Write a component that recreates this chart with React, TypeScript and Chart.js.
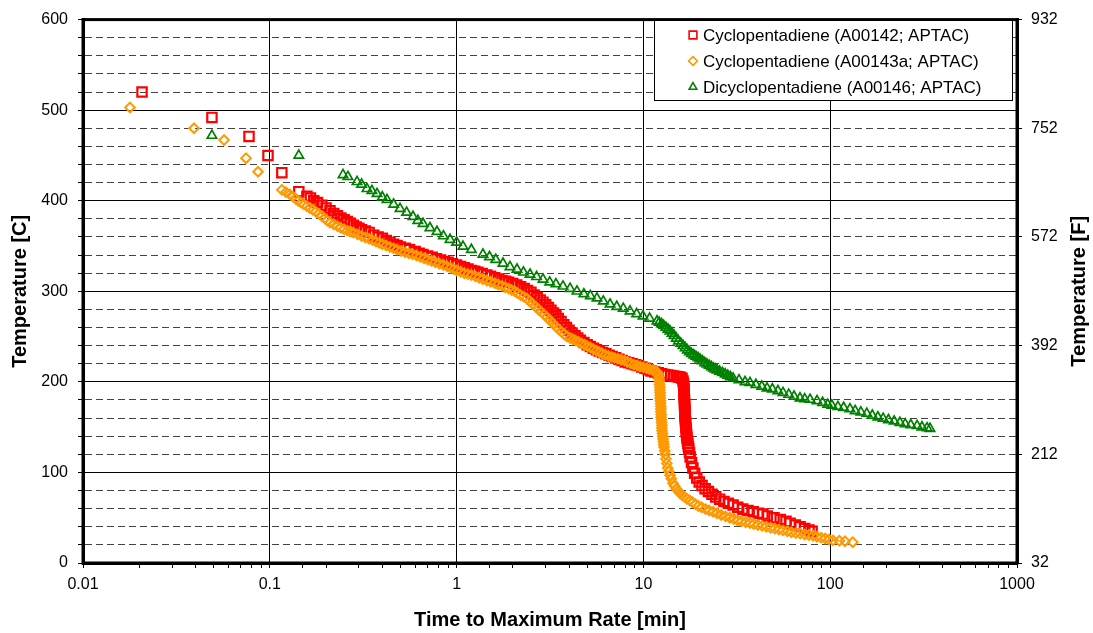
import React, { useEffect, useRef } from 'react';
import { Chart, registerables } from 'chart.js';
Chart.register(...registerables);

const FONT = '"Liberation Sans", Arial, sans-serif';

const seriesLabels = [
  'Cyclopentadiene (A00142; APTAC)',
  'Cyclopentadiene (A00143a; APTAC)',
  'Dicyclopentadiene (A00146; APTAC)',
];
const seriesColors = ['#FF0000', '#FF9900', '#008000'];

const xTickValues = [0.01, 0.1, 1, 10, 100, 1000];
const xTickLabels = ['0.01', '0.1', '1', '10', '100', '1000'];
const fahrenheitTicks = [32, 212, 392, 572, 752, 932];

// Cyclopentadiene (A00142; APTAC): [time to max rate (min), temperature (C)]
const cpd142 = [
  [0.0207, 520], [0.049, 492], [0.0774, 471], [0.0978, 450], [0.116, 431], [0.143, 410],
  [0.158, 405], [0.165, 403], [0.172, 400], [0.18, 398], [0.19, 395], [0.2, 392], [0.21, 389],
  [0.22, 386], [0.23, 383.5], [0.24, 381], [0.25, 379], [0.26, 377], [0.27, 375], [0.28, 373],
  [0.29, 371], [0.3, 369.5], [0.31, 368], [0.325, 366.5], [0.34, 365], [0.36, 362], [0.38, 360],
  [0.4, 358.5], [0.42, 356], [0.44, 354], [0.46, 352], [0.48, 350.5], [0.5, 349], [0.53, 347.5],
  [0.56, 346], [0.6, 344], [0.63, 342], [0.66, 340.5], [0.7, 339], [0.74, 337.5], [0.78, 336],
  [0.82, 334.5], [0.86, 333], [0.9, 332], [0.95, 330.5], [1.0, 329], [1.05, 327.5], [1.1, 326],
  [1.15, 324.5], [1.2, 323], [1.25, 322], [1.3, 321], [1.37, 319.5], [1.45, 318], [1.52, 316.5],
  [1.6, 315], [1.68, 313.5], [1.75, 312], [1.83, 311], [1.9, 310], [2.0, 308.5],
  [2.1, 307], [2.2, 305], [2.3, 303], [2.4, 301], [2.5, 299], [2.6, 296], [2.7, 293], [2.8, 290.5],
  [2.9, 288], [3.0, 285], [3.1, 282], [3.2, 279], [3.3, 276], [3.4, 273], [3.5, 270], [3.62, 266.5],
  [3.75, 263], [3.87, 260], [4.0, 257], [4.15, 254], [4.3, 251], [4.45, 248.5], [4.6, 246],
  [4.8, 243.5], [5.0, 241], [5.2, 239], [5.4, 237], [5.6, 235.5], [5.8, 234], [6.05, 232.5],
  [6.3, 231], [6.55, 229.5], [6.8, 228], [7.1, 226.5], [7.4, 225], [7.7, 223.5], [8.0, 222],
  [8.35, 221], [8.7, 220], [9.05, 219], [9.4, 218], [9.8, 216.5], [10.2, 215], [10.6, 213.5],
  [11.0, 212], [11.5, 211], [12.0, 210], [12.5, 209], [13.0, 208], [13.5, 207.5], [14.0, 207],
  [14.5, 206.5], [15.0, 206], [15.4, 205.5], [15.8, 205], [16.1, 204], [16.3, 201], [16.4, 198],
  [16.45, 195], [16.5, 192], [16.5, 189], [16.5, 186], [16.55, 183], [16.6, 180], [16.6, 177],
  [16.6, 174], [16.65, 171], [16.7, 168], [16.7, 165], [16.7, 162], [16.75, 159], [16.8, 156],
  [16.85, 153], [16.9, 150], [16.95, 147], [17.0, 144], [17.05, 141], [17.1, 138], [17.2, 135],
  [17.3, 132], [17.4, 129], [17.5, 126], [17.65, 122], [17.8, 117], [18.1, 111], [18.4, 105],
  [18.8, 99], [19.3, 94], [19.9, 89.5], [20.6, 85.5], [21.4, 82], [22.3, 79], [23.3, 76],
  [24.4, 73], [25.6, 70.5], [27.0, 68], [28.5, 66], [30.2, 64], [32.0, 61.5], [34.0, 59.5],
  [36.3, 58], [38.7, 56.5], [41.3, 55], [43.6, 54], [46.0, 52], [50.0, 50], [54.0, 48],
  [58.0, 46], [61.0, 44], [65.0, 42], [69.0, 40], [73.0, 38], [77.0, 36.5], [80.0, 35],
];

// Cyclopentadiene (A00143a; APTAC)
const cpd143a = [
  [0.01785, 503], [0.0393, 480], [0.0569, 467], [0.0746, 447], [0.0865, 432], [0.116, 412],
  [0.122, 409.5], [0.128, 407], [0.133, 404.5], [0.138, 402], [0.142, 400], [0.147, 398],
  [0.152, 396], [0.158, 394], [0.164, 392], [0.17, 390], [0.176, 388], [0.183, 385.5], [0.19, 383],
  [0.197, 380.5], [0.203, 378], [0.21, 376], [0.22, 374], [0.23, 372], [0.24, 370], [0.25, 368.5],
  [0.26, 367], [0.27, 366], [0.28, 365], [0.295, 363], [0.31, 361], [0.325, 359.5], [0.34, 358],
  [0.355, 356.5], [0.37, 355], [0.385, 353.5], [0.4, 352], [0.42, 350.5], [0.44, 349], [0.46, 347.5],
  [0.48, 346], [0.505, 344.5], [0.53, 343], [0.555, 342], [0.58, 341], [0.61, 339.5], [0.64, 338],
  [0.67, 336.5], [0.7, 335], [0.735, 333.5], [0.77, 332], [0.81, 330.5], [0.85, 329], [0.89, 327.5],
  [0.93, 326], [0.965, 324.5], [1.0, 323], [1.05, 321.5], [1.1, 320], [1.15, 319], [1.2, 318],
  [1.26, 316.5], [1.32, 315], [1.38, 313.5], [1.45, 312], [1.52, 310.5], [1.6, 309], [1.67, 307.5],
  [1.75, 306], [1.82, 304.5], [1.9, 303], [1.97, 301.5], [2.05, 300], [2.12, 298], [2.2, 296],
  [2.29, 294], [2.38, 292], [2.46, 289], [2.55, 286], [2.65, 283], [2.75, 280], [2.85, 277],
  [2.95, 274], [3.05, 271], [3.16, 268], [3.28, 264.5], [3.4, 261], [3.52, 258], [3.65, 255],
  [3.77, 252.5], [3.9, 250], [4.05, 248.5], [4.2, 247], [4.35, 245.5], [4.5, 244], [4.67, 242.5],
  [4.85, 241], [5.02, 239.5], [5.2, 238], [5.4, 236], [5.6, 234.5], [5.8, 233], [6.0, 231.5],
  [6.25, 230], [6.5, 228.5], [6.75, 227.5], [7.0, 226.5], [7.3, 225.5], [7.6, 224.5], [7.9, 223.5],
  [8.2, 222], [8.55, 220.5], [8.9, 219], [9.25, 218], [9.6, 217], [10.0, 216], [10.4, 215],
  [10.8, 214], [11.2, 213], [11.5, 212], [11.8, 211], [12.0, 209], [12.1, 206], [12.15, 203],
  [12.2, 200], [12.2, 197], [12.25, 194], [12.25, 191], [12.3, 188], [12.3, 185], [12.3, 182],
  [12.35, 179], [12.35, 176], [12.4, 173], [12.4, 170], [12.4, 167], [12.45, 164], [12.45, 161],
  [12.5, 158], [12.5, 155], [12.55, 152], [12.55, 149], [12.6, 146], [12.65, 143], [12.7, 140],
  [12.75, 137], [12.8, 134], [12.85, 131], [12.9, 128], [13.0, 124], [13.1, 120], [13.2, 115],
  [13.35, 110], [13.5, 105], [13.7, 101], [13.9, 97], [14.1, 93], [14.4, 88], [14.7, 85],
  [15.0, 82], [15.35, 79.5], [15.7, 77], [16.1, 75], [16.6, 73], [17.1, 71], [17.7, 69],
  [18.3, 67], [19.0, 65], [19.7, 63], [20.5, 61.5], [21.5, 59.5], [22.5, 58], [23.6, 56.5],
  [24.8, 55], [26.1, 53], [27.5, 51.5], [29.0, 50], [30.5, 48.5], [32.0, 47], [33.5, 46],
  [35.3, 45], [37.2, 44], [39.0, 43], [41.0, 42], [43.2, 41], [45.5, 40], [48.0, 39],
  [50.5, 38], [53.2, 37], [55.9, 36], [59.0, 35], [62.0, 34], [65.5, 33], [69.0, 32.5],
  [73.0, 31.5], [77.0, 31], [81.0, 30], [85.0, 29], [89.5, 28], [94.0, 27], [98.5, 26],
  [103.5, 25], [112.0, 24.5], [120.0, 24], [132.0, 23],
];

// Dicyclopentadiene (A00146; APTAC)
const dcpd146 = [
  [0.049, 472], [0.143, 450], [0.2466, 428.6], [0.262, 426.4], [0.293, 420.9], [0.31, 418],
  [0.331, 413.2], [0.352, 411], [0.375, 407.7], [0.4, 404], [0.424, 401.1], [0.46, 396],
  [0.498, 391.2], [0.54, 387], [0.584, 382.4], [0.62, 378], [0.661, 374.7], [0.72, 370],
  [0.785, 365.9], [0.85, 361], [0.922, 357.1], [1.0, 354], [1.082, 349.5], [1.2, 346],
  [1.384, 340.7], [1.5, 338], [1.62, 335], [1.772, 330.8], [1.93, 327], [2.105, 324.2],
  [2.28, 321], [2.472, 318.7], [2.68, 316], [2.901, 313.2], [3.15, 310], [3.4, 308],
  [3.712, 305.5], [4.05, 303], [4.41, 300], [4.8, 297], [5.2, 295], [5.64, 292.3], [6.1, 289],
  [6.63, 285.7], [7.2, 283], [7.8, 281], [8.48, 278], [9.2, 275], [9.95, 272.5], [10.8, 270],
  [11.83, 267], [12.15, 265.5], [12.5, 264], [12.85, 262], [13.2, 260], [13.55, 258],
  [13.88, 256], [14.25, 253.5], [14.6, 251], [15.0, 248], [15.4, 245], [15.85, 242.5],
  [16.3, 240], [16.75, 237.5], [17.2, 235], [17.65, 233], [18.1, 231], [18.6, 229.5],
  [19.1, 228], [19.6, 226.5], [20.1, 225], [20.7, 223], [21.3, 221], [21.9, 219.5],
  [22.5, 218], [23.1, 216.5], [23.7, 215], [24.2, 214], [24.8, 213], [25.6, 211.5],
  [26.5, 210], [27.4, 208.5], [28.3, 207], [29.2, 205.5], [30.2, 204], [32.5, 202],
  [35.0, 200], [37.2, 199], [40.0, 197], [43.0, 195], [45.9, 193], [49.0, 192], [52.5, 190],
  [55.9, 188], [60.0, 186], [64.0, 184], [68.9, 182], [73.0, 181], [78.0, 180.5], [85.0, 179],
  [91.0, 177], [97.0, 175], [102.0, 174], [110.0, 172.5], [118.0, 171.5], [127.6, 170],
  [136.0, 168], [146.0, 166.5], [157.0, 165], [168.0, 163], [180.0, 161], [192.0, 159.5],
  [205.0, 158], [220.0, 156.5], [236.0, 155], [252.0, 153.5], [270.0, 152.5], [292.0, 151.5],
  [310.0, 150], [330.0, 149], [342.0, 148.4],
];

const isDecade = (v: number | undefined) =>
  v !== undefined && xTickValues.some((t) => Math.abs(t - v) < t * 1e-6);

function drawMarker(ctx: CanvasRenderingContext2D, style: string, x: number, y: number, r: number) {
  ctx.beginPath();
  if (style === 'rect') {
    const s = r * Math.SQRT1_2;
    ctx.rect(x - s, y - s, 2 * s, 2 * s);
  } else if (style === 'rectRot') {
    ctx.moveTo(x, y - r);
    ctx.lineTo(x + r, y);
    ctx.lineTo(x, y + r);
    ctx.lineTo(x - r, y);
    ctx.closePath();
  } else {
    ctx.moveTo(x, y - r);
    ctx.lineTo(x + r * 0.866, y + r * 0.5);
    ctx.lineTo(x - r * 0.866, y + r * 0.5);
    ctx.closePath();
  }
  ctx.stroke();
}

const framePlugin = {
  id: 'frameAndLegend',
  afterDraw(chart: any) {
    const { ctx, chartArea } = chart;
    ctx.save();
    // plot frame
    ctx.strokeStyle = '#000';
    ctx.lineWidth = 3;
    ctx.strokeRect(chartArea.left, chartArea.top, chartArea.right - chartArea.left, chartArea.bottom - chartArea.top);

    // legend box
    const bx = 654.5, by = 20.5, bw = 358, bh = 80;
    ctx.fillStyle = '#fff';
    ctx.fillRect(bx, by, bw, bh);
    ctx.lineWidth = 1;
    ctx.strokeStyle = '#000';
    ctx.strokeRect(bx, by, bw, bh);
    ctx.font = `17px ${FONT}`;
    ctx.textBaseline = 'middle';
    ctx.textAlign = 'left';
    chart.data.datasets.forEach((ds: any, i: number) => {
      const cy = 35 + i * 26;
      ctx.strokeStyle = ds.borderColor;
      ctx.lineWidth = 1.6;
      drawMarker(ctx, ds.pointStyle, 693, cy, ds.pointStyle === 'rect' ? 5.5 : 4.4);
      ctx.fillStyle = '#000';
      ctx.fillText(ds.label, 703, cy + 1);
    });

    // right axis title (reads bottom to top)
    ctx.save();
    ctx.translate(1079, (chartArea.top + chartArea.bottom) / 2);
    ctx.rotate(-Math.PI / 2);
    ctx.font = `bold 20px ${FONT}`;
    ctx.textAlign = 'center';
    ctx.textBaseline = 'middle';
    ctx.fillStyle = '#000';
    ctx.fillText('Temperature [F]', 0, 0);
    ctx.restore();
    ctx.restore();
  },
};

export default function App() {
  const ref = useRef<HTMLCanvasElement>(null);
  useEffect(() => {
    const toPts = (arr: number[][]) => arr.map(([x, y]) => ({ x, y }));
    const chart = new Chart(ref.current as HTMLCanvasElement, {
      type: 'scatter',
      data: {
        datasets: [
          {
            label: seriesLabels[0], data: toPts(cpd142), pointStyle: 'rect', pointRadius: 6.6,
            borderColor: seriesColors[0], backgroundColor: 'rgba(0,0,0,0)', pointBorderWidth: 2.2, order: 3,
          },
          {
            label: seriesLabels[1], data: toPts(cpd143a), pointStyle: 'rectRot', pointRadius: 4.8,
            borderColor: seriesColors[1], backgroundColor: 'rgba(0,0,0,0)', pointBorderWidth: 2, order: 2,
          },
          {
            label: seriesLabels[2], data: toPts(dcpd146), pointStyle: 'triangle', pointRadius: 5.4,
            borderColor: seriesColors[2], backgroundColor: 'rgba(0,0,0,0)', pointBorderWidth: 1.7, order: 1,
          },
        ] as any,
      },
      options: {
        responsive: false,
        animation: false,
        events: [],
        layout: { padding: { top: 17, left: 0, right: 0, bottom: 0 } },
        plugins: { legend: { display: false }, tooltip: { enabled: false } },
        scales: {
          x: {
            type: 'logarithmic',
            position: 'bottom',
            min: 0.01,
            max: 1000,
            afterFit: (s: any) => { s.height = 70; },
            ticks: {
              autoSkip: false,
              maxRotation: 0,
              padding: 7,
              color: '#000',
              font: { family: FONT, size: 16 },
              callback: (value: any) => {
                const v = Number(value);
                const i = xTickValues.findIndex((t) => Math.abs(t - v) < t * 1e-6);
                return i >= 0 ? xTickLabels[i] : '';
              },
            },
            grid: {
              color: (c: any) => (isDecade(c.tick?.value) ? '#000' : 'rgba(0,0,0,0)'),
              tickColor: '#000',
              tickLength: 5,
              lineWidth: 1,
            },
            border: { display: true, color: '#000', width: 3 },
            title: {
              display: true,
              text: 'Time to Maximum Rate [min]',
              color: '#000',
              font: { family: FONT, size: 20, weight: 'bold' },
              padding: { top: 0, bottom: 1 },
            },
          },
          y: {
            type: 'linear',
            position: 'left',
            min: 0,
            max: 600,
            afterFit: (s: any) => { s.width = 83; },
            ticks: {
              stepSize: 20,
              autoSkip: false,
              padding: 10,
              color: '#000',
              font: { family: FONT, size: 16 },
              callback: (value: any) => (Number(value) % 100 === 0 ? String(value) : ''),
            },
            grid: {
              color: (c: any) => (c.tick && c.tick.value % 100 === 0 ? '#000' : '#444'),
              tickColor: '#000',
              tickLength: 5,
              lineWidth: 1,
            },
            border: {
              display: true,
              color: '#000',
              width: 3,
              dash: (c: any) => (c.tick && c.tick.value % 100 !== 0 ? [7, 4] : []),
            },
            title: {
              display: true,
              text: 'Temperature [C]',
              color: '#000',
              font: { family: FONT, size: 20, weight: 'bold' },
              padding: { top: 8, bottom: 0 },
            },
          },
          y2: {
            type: 'linear',
            position: 'right',
            min: 32,
            max: 932,
            afterFit: (s: any) => { s.width = 76; },
            afterBuildTicks: (s: any) => { s.ticks = fahrenheitTicks.map((v) => ({ value: v })); },
            ticks: {
              autoSkip: false,
              padding: 9,
              color: '#000',
              font: { family: FONT, size: 16 },
            },
            grid: { drawOnChartArea: false, tickColor: '#000', tickLength: 5 },
            border: { display: true, color: '#000', width: 3 },
          },
        },
      } as any,
      plugins: [framePlugin],
    });
    return () => chart.destroy();
  }, []);
  return (
    <div style={{ position: 'absolute', left: 0, top: 0, width: 1093, height: 633, background: '#fff' }}>
      <canvas ref={ref} width={1093} height={633} style={{ display: 'block' }} />
    </div>
  );
}
